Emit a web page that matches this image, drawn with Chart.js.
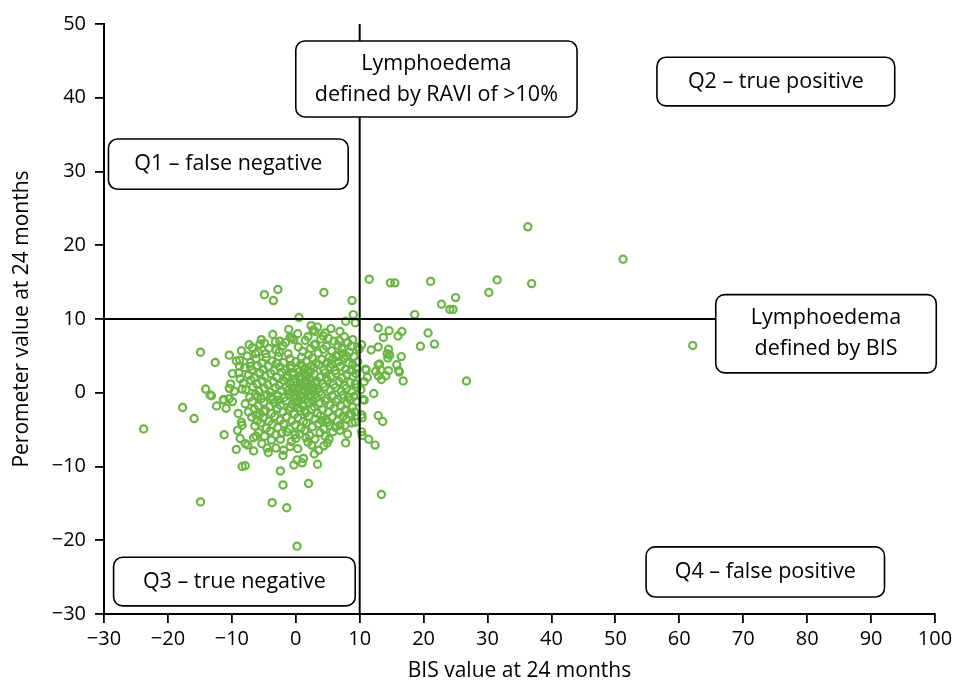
<!DOCTYPE html>
<html>
<head>
<meta charset="utf-8">
<title>BIS vs perometer at 24 months</title>
<script src="https://cdn.jsdelivr.net/npm/chart.js@4.4.1/dist/chart.umd.min.js"></script>
<style>
  html, body { margin: 0; padding: 0; background: #fff; }
</style>
</head>
<body>
<canvas id="scatterChart" width="957" height="684"></canvas>
<script>
// axis ranges and cut-offs
const bisRange = [-30, 100];
const perometerRange = [-30, 50];
const bisThreshold = 10;
const perometerThreshold = 10;

// [BIS value, perometer value] per patient at 24 months
const patients = [
  // outlying points
  [-23.8, -4.9], [-17.7, -2.0], [-15.9, -3.5], [-14.9, -14.8], [-14.9, 5.5], [-14.1, 0.5],
  [-13.4, -0.3], [-13.2, -0.4], [-12.6, 4.1], [-12.4, -1.8], [-11.3, -0.9], [-11.3, -1.0],
  [-11.2, -5.7], [-10.9, -2.1], [-10.4, 5.1], [-10.4, 0.6], [-10.4, -0.8], [-9.9, 2.6],
  [-9.9, -1.2], [-9.3, 4.3], [-9.3, -7.7], [-9.1, -5.1], [-8.8, 4.4], [-8.8, 3.6],
  [-8.7, 1.9], [-8.7, -6.2], [-8.5, 5.7], [-8.5, -4.0], [-8.4, 0.5], [-8.4, -4.4],
  [-8.4, -10.0], [-7.9, -6.9], [-7.9, -9.9], [-7.5, -7.1], [-7.3, 6.5], [-6.6, -6.1],
  [-6.2, -5.9], [-5.4, 7.2], [-4.9, 13.3], [-4.9, 6.7], [-4.5, -7.5], [-4.3, -8.1],
  [-3.8, -6.4], [-3.7, -14.9], [-3.6, 7.9], [-3.5, 12.5], [-3.1, -7.5], [-2.8, 14.0],
  [-2.5, 7.0], [-2.4, -10.6], [-2.4, -6.3], [-2.2, -5.5], [-2.0, -12.5], [-1.9, -7.8],
  [-1.4, -15.6], [-0.9, 7.5], [-0.9, -7.3], [-0.3, 7.2], [-0.3, -9.8], [-0.1, -5.7],
  [0.0, -6.2], [0.2, -20.8], [0.2, -9.1], [0.3, -7.6], [0.5, 10.2], [1.0, -9.5],
  [1.2, -8.9], [1.5, 7.1], [1.6, -6.1], [2.0, -12.3], [2.4, 9.1], [2.5, -7.1],
  [2.7, 8.5], [2.9, 6.5], [2.9, -8.3], [3.0, 8.3], [3.0, -6.3], [3.4, -9.7],
  [4.3, 7.7], [4.4, 13.6], [4.4, -7.2], [4.6, 8.1], [4.9, -6.8], [6.8, 7.1],
  [6.9, -4.4], [7.7, -4.4], [7.8, 9.7], [7.8, -6.8], [8.1, 6.8], [8.4, -2.9],
  [8.5, -1.0], [8.7, -2.9], [8.8, 12.5], [8.8, -4.1], [8.9, 7.2], [9.0, 10.6],
  [9.3, 9.5], [9.3, -4.0], [9.7, 6.2], [9.9, 5.9],
  [10.2, 0.4], [10.3, 6.5], [10.3, -3.0], [10.3, -5.3], [10.4, -3.4], [10.4, -5.8],
  [10.5, -0.9], [10.7, 1.5], [10.7, -1.0], [10.9, 3.2], [11.0, 3.1], [11.2, 2.1],
  [11.4, -6.3], [11.5, 15.4], [11.8, 5.8], [12.2, -0.1], [12.4, -7.1], [12.5, 2.9],
  [12.9, 8.8], [12.9, 6.2], [12.9, 3.8], [12.9, 2.3], [12.9, -3.1], [13.1, 3.9],
  [13.3, 3.1], [13.4, 1.8], [13.4, -13.8], [13.6, -3.9], [13.7, 7.5], [14.1, 2.3],
  [14.3, 5.3], [14.4, 4.7], [14.5, 5.9], [14.5, 3.0], [14.6, 8.4], [14.7, 5.1],
  [14.8, 14.9], [15.5, 14.9], [15.8, 3.8], [16.0, 7.7], [16.1, 3.0], [16.2, 2.8],
  [16.5, 4.9], [16.6, 8.3], [16.8, 1.6], [18.6, 10.6], [19.5, 6.3], [20.7, 8.1],
  [21.1, 15.1], [21.7, 6.6], [22.8, 12.0], [24.1, 11.3], [24.6, 11.3], [25.0, 12.9],
  [26.7, 1.6], [30.2, 13.6], [31.5, 15.3], [36.3, 22.5], [36.9, 14.8], [51.2, 18.1],
  [62.1, 6.4],
  // main cluster
  [-6.8, 6.1], [-5.9, 5.5], [-4.2, 6.0], [-3.1, 5.8], [-2.0, 6.4], [-1.2, 5.3],
  [0.4, 6.2], [1.1, 5.6], [2.3, 6.0], [3.5, 5.4], [4.8, 6.3], [5.6, 5.7],
  [6.4, 5.1], [7.2, 6.0], [8.4, 5.5], [9.1, 4.9], [-7.6, 5.0], [-0.6, 7.4],
  [3.9, 7.3], [6.0, 7.0], [7.6, 7.6], [5.2, 4.8],
  [-7.1, 4.1], [-6.2, 4.6], [-5.3, 4.0], [-4.6, 4.8], [-3.7, 4.3], [-2.7, 4.9],
  [-1.9, 4.1], [-0.9, 4.6], [0.0, 4.2], [0.9, 4.8], [1.7, 4.3], [2.6, 4.7],
  [3.2, 4.0], [4.1, 4.5], [4.9, 4.1], [5.8, 4.6], [6.7, 4.2], [7.5, 4.7],
  [8.3, 4.0], [8.9, 3.8],
  [-8.0, 3.4], [-6.9, 3.1], [-6.0, 3.7], [-5.1, 3.2], [-4.3, 3.6], [-3.4, 3.0],
  [-2.5, 3.5], [-1.6, 3.1], [-0.7, 3.7], [0.2, 3.2], [1.0, 3.6], [1.9, 3.0],
  [2.8, 3.4], [3.6, 3.8], [4.4, 3.1], [5.3, 3.5], [6.1, 3.0], [7.0, 3.6],
  [7.8, 3.2], [8.7, 3.0], [9.5, 3.3],
  [-7.4, 2.4], [-6.5, 2.0], [-5.6, 2.7], [-4.8, 2.2], [-3.9, 2.6], [-3.0, 2.1],
  [-2.2, 2.8], [-1.3, 2.3], [-0.4, 2.7], [0.5, 2.2], [1.3, 2.6], [2.1, 2.0],
  [2.9, 2.5], [3.8, 2.1], [4.6, 2.7], [5.5, 2.2], [6.3, 2.6], [7.2, 2.0],
  [8.0, 2.5], [9.0, 2.2], [-0.1, 1.9], [1.6, 1.7],
  [-8.2, 1.3], [-7.0, 1.7], [-6.1, 1.2], [-5.2, 1.6], [-4.4, 1.1], [-3.5, 1.5],
  [-2.6, 1.0], [-1.8, 1.6], [-0.9, 1.2], [0.1, 1.5], [0.8, 1.0], [1.7, 1.4],
  [2.5, 1.1], [3.3, 1.6], [4.2, 1.2], [5.0, 1.7], [5.9, 1.1], [6.8, 1.5],
  [7.6, 1.0], [8.5, 1.4], [9.3, 1.2], [0.5, 0.7], [-0.4, 0.6], [1.2, 0.5],
  [-7.8, 0.4], [-6.7, 0.8], [-5.8, 0.2], [-4.9, 0.6], [-4.0, 0.1], [-3.2, 0.7],
  [-2.3, 0.3], [-1.5, 0.8], [-0.6, 0.0], [0.3, 0.4], [1.1, 0.9], [2.0, 0.2],
  [2.8, 0.6], [3.7, 0.1], [4.5, 0.8], [5.4, 0.3], [6.2, 0.7], [7.1, 0.2],
  [7.9, 0.6], [8.8, 0.1], [-0.2, -0.3],
  [-7.2, -0.6], [-6.3, -0.2], [-5.4, -0.8], [-4.5, -0.3], [-3.6, -0.9], [-2.8, -0.4],
  [-1.9, -0.7], [-1.0, -0.2], [-0.1, -0.8], [0.7, -0.4], [1.5, -0.9], [2.4, -0.3],
  [3.2, -0.7], [4.0, -0.2], [4.9, -0.8], [5.7, -0.4], [6.6, -0.9], [7.4, -0.3],
  [8.2, -0.6], [9.1, -0.5], [0.2, -0.5],
  [-7.9, -1.5], [-6.8, -1.2], [-5.9, -1.8], [-5.0, -1.3], [-4.1, -1.9], [-3.3, -1.4],
  [-2.4, -1.7], [-1.5, -1.1], [-0.6, -1.6], [0.3, -1.2], [1.2, -1.8], [2.0, -1.3],
  [2.9, -1.9], [3.7, -1.4], [4.6, -1.1], [5.4, -1.7], [6.3, -1.2], [7.1, -1.8],
  [8.0, -1.4], [8.9, -1.9],
  [-7.4, -2.6], [-6.5, -2.2], [-5.6, -2.9], [-4.7, -2.4], [-3.8, -2.8], [-2.9, -2.1],
  [-2.0, -2.6], [-1.1, -2.3], [-0.2, -2.9], [0.7, -2.4], [1.6, -2.7], [2.5, -2.2],
  [3.4, -2.8], [4.2, -2.3], [5.1, -2.6], [6.0, -2.1], [6.8, -2.7], [7.7, -2.4],
  [-6.9, -3.3], [-6.0, -3.8], [-5.1, -3.4], [-4.2, -3.9], [-3.3, -3.2], [-2.4, -3.7],
  [-1.5, -3.3], [-0.6, -3.8], [0.3, -3.4], [1.2, -3.9], [2.1, -3.2], [3.0, -3.6],
  [3.9, -3.1], [4.8, -3.7], [5.7, -3.3], [6.5, -3.8], [7.4, -3.2],
  [-6.4, -4.5], [-5.5, -4.1], [-4.6, -4.8], [-3.7, -4.3], [-2.8, -4.7], [-1.9, -4.2],
  [-1.0, -4.9], [-0.1, -4.4], [0.8, -4.8], [1.7, -4.1], [2.6, -4.6], [3.5, -4.2],
  [4.4, -4.9], [5.3, -4.4], [6.2, -4.7],
  [-5.8, -5.4], [-4.9, -5.9], [-4.0, -5.2], [-3.1, -5.7], [-1.4, -5.3], [0.6, -5.6],
  [1.4, -5.1], [2.2, -5.8], [3.8, -5.4], [4.6, -5.9], [5.8, -5.3],
  [0.6, 2.9], [1.4, 3.3], [2.2, 1.8], [0.9, 1.9], [1.8, 2.3], [-0.3, 1.4],
  [2.6, 0.4], [0.0, -1.4], [1.0, -0.6], [-1.2, 0.3], [3.0, -0.2], [1.4, -2.4],
  [-0.8, -2.0], [2.3, 2.9],
  [0.8, 3.9], [2.0, 5.1], [3.1, 6.6], [4.3, 5.9], [5.1, 7.4], [6.6, 6.4],
  [7.9, 5.0], [8.7, 6.3], [-1.6, 6.8], [-2.6, 5.5], [-4.7, 5.3], [-5.6, 6.6],
  [-6.3, 5.3], [-3.2, 6.9], [1.9, 7.6], [0.3, 8.0], [3.4, 8.9], [5.5, 8.7],
  [6.9, 8.3], [-1.1, 8.6], [0.4, -2.0], [1.9, -0.4], [2.7, -1.2], [3.5, 0.5],
  [4.8, 2.0], [5.6, 3.9], [6.5, 4.9], [7.3, 5.3], [3.0, 1.3], [-0.8, 3.3],
  [-1.5, 2.0], [-2.7, -1.0], [-3.9, -0.5], [-5.0, -2.5], [-6.2, -3.0], [4.1, -3.8],
  [5.0, -4.0], [6.9, -5.1], [7.9, -3.6], [9.2, -2.6], [9.5, -1.2], [9.6, 0.7],
  [9.4, 2.6], [9.7, 4.2], [8.1, -5.6], [-0.7, -6.6], [1.9, -6.7], [-2.0, -8.5],
  [3.6, -7.8], [5.2, -6.3], [-5.3, -6.9], [-6.6, -7.9], [-7.1, 3.6], [-8.9, 2.7],
  [-9.6, 0.2], [-9.0, -2.8], [-10.2, 1.2], [-6.0, -0.5], [-3.0, 4.0], [2.4, 3.6]
];

// quadrant and definition labels, placed in data units
const labelBoxes = [
  { lines: ['Lymphoedema', 'defined by RAVI of >10%'], x: [0, 44], y: [37.4, 47.7] },
  { lines: ['Q2 \u2013 true positive'], x: [56.5, 93.7], y: [38.9, 45.5] },
  { lines: ['Q1 \u2013 false negative'], x: [-29.3, 8.2], y: [27.6, 34.4] },
  { lines: ['Lymphoedema', 'defined by BIS'], x: [65.7, 100.2], y: [2.7, 13.3] },
  { lines: ['Q3 \u2013 true negative'], x: [-28.5, 9.3], y: [-28.9, -22.3] },
  { lines: ['Q4 \u2013 false positive'], x: [54.8, 92.1], y: [-27.7, -20.9] }
];

const FONT = '"Open Sans", "DejaVu Sans", sans-serif';
const GREEN = '#6bb545';

const minusSign = v => String(v).replace('-', '\u2212');

function roundRect(ctx, x, y, w, h, r) {
  ctx.beginPath();
  ctx.moveTo(x + r, y);
  ctx.lineTo(x + w - r, y);
  ctx.arcTo(x + w, y, x + w, y + r, r);
  ctx.lineTo(x + w, y + h - r);
  ctx.arcTo(x + w, y + h, x + w - r, y + h, r);
  ctx.lineTo(x + r, y + h);
  ctx.arcTo(x, y + h, x, y + h - r, r);
  ctx.lineTo(x, y + r);
  ctx.arcTo(x, y, x + r, y, r);
  ctx.closePath();
}

const labelBoxPlugin = {
  id: 'labelBoxes',
  afterDatasetsDraw(chart) {
    const { ctx, scales: { x, y } } = chart;
    ctx.save();
    labelBoxes.forEach(b => {
      const left = x.getPixelForValue(b.x[0]);
      const right = x.getPixelForValue(b.x[1]);
      const top = y.getPixelForValue(b.y[1]);
      const bottom = y.getPixelForValue(b.y[0]);
      roundRect(ctx, left, top, right - left, bottom - top, 9);
      ctx.fillStyle = '#fff';
      ctx.fill();
      ctx.lineWidth = 1.6;
      ctx.strokeStyle = '#000';
      ctx.stroke();

      ctx.fillStyle = '#000';
      ctx.font = '21.5px ' + FONT;
      ctx.textAlign = 'center';
      ctx.textBaseline = 'middle';
      const lineGap = 31;
      const cx = (left + right) / 2;
      const cy = (top + bottom) / 2 - (b.lines.length - 1) * lineGap / 2;
      b.lines.forEach((t, i) => ctx.fillText(t, cx, cy + i * lineGap));
    });
    ctx.restore();
  }
};

const axisStyle = {
  grid: { drawOnChartArea: false, drawTicks: true, tickLength: 9, color: '#000', lineWidth: 1.8 },
  border: { color: '#000', width: 2 },
  ticks: { color: '#000', font: { family: FONT, size: 20 }, stepSize: 10, padding: 4, callback: minusSign }
};

new Chart(document.getElementById('scatterChart'), {
  type: 'scatter',
  data: {
    datasets: [
      {
        label: 'RAVI cut-off',
        data: [{ x: bisRange[0], y: perometerThreshold }, { x: 66, y: perometerThreshold }],
        showLine: true, borderColor: '#000', borderWidth: 2, pointRadius: 0
      },
      {
        label: 'BIS cut-off',
        data: [{ x: bisThreshold, y: perometerRange[0] }, { x: bisThreshold, y: perometerRange[1] }],
        showLine: true, borderColor: '#000', borderWidth: 2, pointRadius: 0
      },
      {
        label: 'Patients',
        data: patients.map(([x, y]) => ({ x, y })),
        pointStyle: 'circle',
        pointRadius: 3.6,
        pointBorderWidth: 2.2,
        pointBorderColor: GREEN,
        pointBackgroundColor: 'rgba(255,255,255,0)'
      }
    ]
  },
  options: {
    responsive: false,
    animation: false,
    layout: { padding: { top: 24, right: 22, bottom: 0, left: 7 } },
    plugins: { legend: { display: false }, tooltip: { enabled: false } },
    scales: {
      x: {
        type: 'linear',
        min: bisRange[0], max: bisRange[1],
        ...axisStyle,
        afterFit: s => { s.height = 70; },
        title: { display: true, text: 'BIS value at 24 months', color: '#000', font: { family: FONT, size: 21 }, padding: { top: 4, bottom: 0 } }
      },
      y: {
        type: 'linear',
        min: perometerRange[0], max: perometerRange[1],
        ...axisStyle,
        ticks: { ...axisStyle.ticks, padding: 9 },
        afterFit: s => { s.width = 97; },
        title: { display: true, text: 'Perometer value at 24 months', color: '#000', font: { family: FONT, size: 21 }, padding: { top: 2, bottom: 6 } }
      }
    }
  },
  plugins: [labelBoxPlugin]
});
</script>
</body>
</html>
